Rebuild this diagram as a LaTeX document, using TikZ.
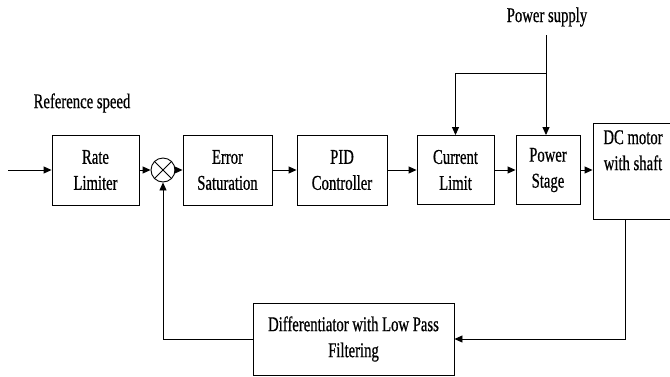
\documentclass[tikz,border=0pt]{standalone}
\usepackage{fontspec}
\setmainfont{Liberation Serif}[FakeStretch=0.7, UprightFeatures={FakeBold=0.6}]
\usetikzlibrary{arrows.meta}
\begin{document}
\begin{tikzpicture}[x=1pt,y=-1pt,
  box/.style={draw, line width=0.9pt, align=center, inner sep=0pt, font=\fontsize{21}{26}\selectfont},
  arr/.style={-{Triangle[length=8pt,width=7pt]}, line width=0.9pt},
  ln/.style={line width=0.9pt},
  lbl/.style={font=\fontsize{21}{26}\selectfont, inner sep=0pt}]
\clip (0,0) rectangle (670,376);
\node[box, minimum width=87pt, minimum height=70pt] (rl) at (95.5,170) {Rate\\Limiter};
\node[draw, line width=0.9pt, circle, minimum size=24pt, inner sep=0pt] (sum) at (163,170) {};
\draw[ln] (sum.north east) -- (sum.south west) (sum.north west) -- (sum.south east);
\node[box, minimum width=89pt, minimum height=70pt] (es) at (227.5,170) {Error\\Saturation};
\node[box, minimum width=90pt, minimum height=70pt] (pid) at (342,170) {PID\\Controller};
\node[box, minimum width=77pt, minimum height=69pt] (cl) at (455.5,170) {Current\\Limit};
\node[box, minimum width=64pt, minimum height=69pt] (ps) at (548,170) {Power\\Stage};
\node[draw, line width=0.9pt, minimum width=80pt, minimum height=96pt, inner sep=0pt] (dc) at (633,171) {};
\node[lbl, align=center, anchor=north] (dct) at (633,130) {DC motor\\with shaft};
\node[box, minimum width=201pt, minimum height=72pt] (dif) at (353.5,339) {Differentiator with Low Pass\\Filtering};
\node[lbl] (ref) at (82,103) {Reference speed};
\node[lbl] (pwr) at (547,17) {Power supply};
\coordinate (in) at (8,170);
\coordinate (psrc) at (546,35);
\coordinate (br) at (546,73);
\draw[arr] (in) -- (rl.west);
\draw[arr] (rl.east) -- (sum.west);
\draw[arr] (sum.east) -- (es.west);
\draw[arr] (es.east) -- (pid.west);
\draw[arr] (pid.east) -- (cl.west);
\draw[arr] (cl.east) -- (ps.west);
\draw[arr] (ps.east) -- (ps.east -| dc.west);
\draw[ln] (psrc) -- (br);
\draw[arr] (br) -- (br |- ps.north);
\draw[arr] (br) -| (cl.north);
\draw[arr] ([xshift=-8pt]dc.south) |- (dif.east);
\draw[arr] (dif.west) -| (sum.south);
\end{tikzpicture}
\end{document}
